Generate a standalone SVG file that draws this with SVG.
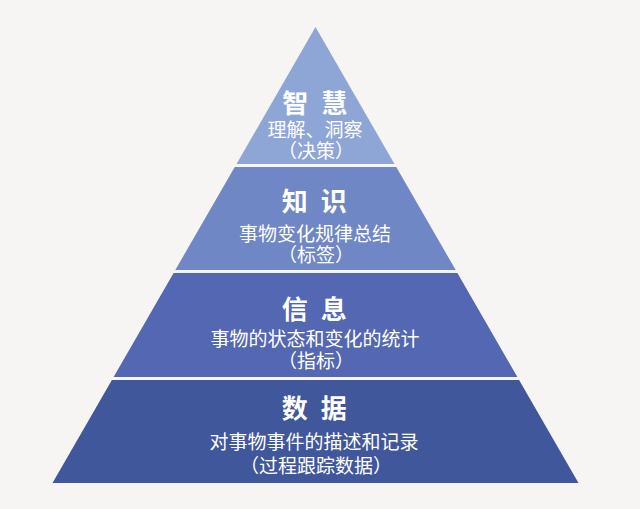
<svg xmlns="http://www.w3.org/2000/svg" width="640" height="509" viewBox="0 0 640 509">
  <style>
    .t{font-family:"Noto Sans CJK SC","Noto Sans",sans-serif;fill:#ffffff;text-anchor:middle}
    .h{font-size:26px;font-weight:bold;letter-spacing:3.5px}
    .s{font-size:19px}
  </style>
  <rect x="0" y="0" width="640" height="509" fill="#f6f5f4"/>
  <g id="tier-wisdom">
    <polygon points="315.5,27 394.5,164 236.5,164" fill="#8ea6d6"/>
    <text class="t h" x="316.5" y="113">智 慧</text>
    <text class="t s" x="315" y="137">理解、洞察</text>
    <text class="t s" x="316" y="157.5">（决策）</text>
  </g>
  <g id="tier-knowledge">
    <polygon points="234.75,167 396.25,167 455.7,270 175.3,270" fill="#6f87c4"/>
    <text class="t h" x="316" y="211">知 识</text>
    <text class="t s" x="315" y="241">事物变化规律总结</text>
    <text class="t s" x="316" y="261.5">（标签）</text>
  </g>
  <g id="tier-information">
    <polygon points="173.6,273 457.4,273 517.4,377 113.6,377" fill="#5467b2"/>
    <text class="t h" x="316" y="319">信 息</text>
    <text class="t s" x="315" y="346">事物的状态和变化的统计</text>
    <text class="t s" x="316" y="367.5">（指标）</text>
  </g>
  <g id="tier-data">
    <polygon points="111.9,380 519.1,380 578.5,483 52.5,483" fill="#41579b"/>
    <text class="t h" x="316" y="417.5">数 据</text>
    <text class="t s" x="314" y="449">对事物事件的描述和记录</text>
    <text class="t s" x="316" y="472.5">（过程跟踪数据）</text>
  </g>
  <g id="connectors"></g>
</svg>
